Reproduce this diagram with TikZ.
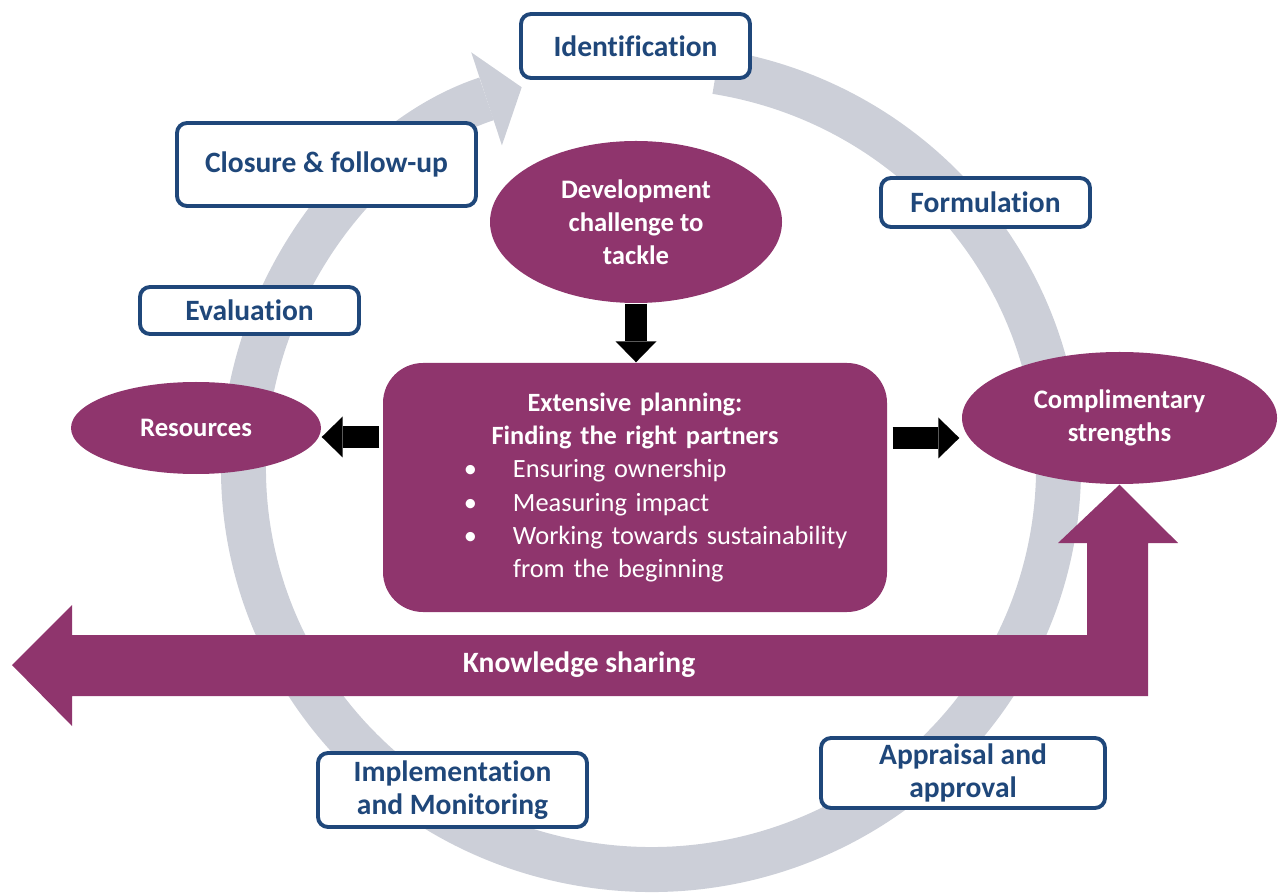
\documentclass[tikz,border=0pt]{standalone}
\usepackage{fontspec}
\setmainfont[Ligatures=NoCommon]{Carlito}
\usetikzlibrary{arrows.meta,shapes.geometric}
\definecolor{plum}{HTML}{8F356D}
\definecolor{stageblue}{HTML}{1F477A}
\definecolor{ringgray}{HTML}{CCCFD8}
\begin{document}
\begin{tikzpicture}[
  stage/.style={draw=stageblue, line width=1.1pt, fill=white, rounded corners=0.1cm,
    text=stageblue, font=\fontsize{8.4}{9.4}\selectfont\bfseries, align=center, inner sep=0pt},
  blob/.style={ellipse, fill=plum, text=white, font=\fontsize{7.6}{9.4}\selectfont\bfseries,
    align=center, inner sep=0pt},
  blockarrow/.style={line width=0.22cm, -{Triangle[length=0.21cm,width=0.41cm,line width=0pt]}}
]
\useasboundingbox (0,0) rectangle (12.83,8.92);
\coordinate (ringc) at (6.51,4.24);
\draw[ringgray, line width=0.45cm, -{Triangle[length=0.37cm,width=0.98cm,line width=0pt]}]
  ([shift={(80.8:4.075 and 4.015)}]ringc) arc[start angle=80.8, end angle=-251.5, x radius=4.075, y radius=4.015];

\node[stage, minimum width=2.29cm, minimum height=0.64cm] (ident) at (6.355,8.46) {Identification};
\node[stage, minimum width=2.09cm, minimum height=0.49cm] (formul) at (9.855,6.895) {Formulation};
\node[stage, minimum width=2.84cm, minimum height=0.70cm] (apprais) at (9.63,1.19) {Appraisal and\\approval};
\node[stage, minimum width=2.69cm, minimum height=0.74cm] (implem) at (4.525,1.02) {Implementation\\and Monitoring};
\node[stage, minimum width=2.19cm, minimum height=0.47cm] (evalu) at (2.495,5.815) {Evaluation};
\node[stage, minimum width=2.99cm, minimum height=0.83cm] (closure) at (3.265,7.275) {Closure \& follow-up};

\node[blob, minimum width=2.92cm, minimum height=1.62cm] (devel) at (6.36,6.70) {Development\\challenge to\\tackle};
\node[blob, minimum width=2.50cm, minimum height=0.92cm] (resources) at (1.96,4.64) {Resources};
\node[blob, minimum width=3.15cm, minimum height=1.32cm] (compl) at (11.195,4.74) {Complimentary\\strengths};
\node[fill=plum, rounded corners=0.4cm, text=white, minimum width=5.04cm, minimum height=2.49cm,
  text width=4.6cm, inner sep=0pt, font=\fontsize{7.5}{9.4}\selectfont] (plan) at (6.35,4.045) {%
  {\centering\bfseries Extensive planning:\\Finding the right partners\par}
  \raggedright\leftskip=1.08cm
  \noindent\llap{\textbullet\hspace{0.36cm}}Ensuring ownership\par
  \noindent\llap{\textbullet\hspace{0.36cm}}Measuring impact\par
  \noindent\llap{\textbullet\hspace{0.36cm}}Working towards sustainability\\from the beginning\par};

\draw[blockarrow] (devel.south) -- (devel.south |- plan.north);
\draw[blockarrow] ([xshift=-0.03cm,yshift=-0.09cm]plan.west |- resources.east) -- ([yshift=-0.09cm]resources.east);
\draw[blockarrow] ([xshift=0.05cm,yshift=-0.2cm]plan.east |- compl.west) -- ([xshift=-0.02cm,yshift=-0.2cm]compl.west);

\fill[plum] (0.12,2.27) -- (0.72,2.87) -- (0.72,2.57) -- (10.87,2.57) -- (10.87,3.49) -- (10.58,3.49)
  -- (compl.south) -- (11.78,3.49) -- (11.48,3.49) -- (11.48,1.96) -- (0.72,1.96) -- (0.72,1.66) -- cycle;
\node[text=white, font=\fontsize{8.4}{9.4}\selectfont\bfseries] (share) at (5.79,2.27) {Knowledge sharing};
\end{tikzpicture}
\end{document}
